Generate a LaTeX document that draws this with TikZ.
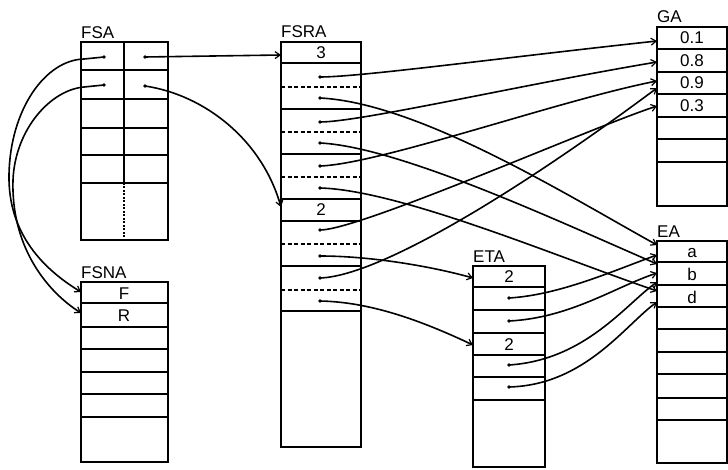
\documentclass[tikz,border=0pt]{standalone}
\usepackage{fontspec}
\setmainfont{Liberation Sans}
\usetikzlibrary{arrows.meta}
\begin{document}
\begin{tikzpicture}[x=1pt,y=-1pt,
  box/.style={line width=2pt},
  sep/.style={line width=1.8pt},
  dsep/.style={line width=1.8pt, dash pattern=on 4pt off 2.5pt},
  dmid/.style={line width=1.8pt, dash pattern=on 2pt off 1.5pt},
  link/.style={line width=1.6pt, -{Straight Barb[length=5pt,width=7pt,line width=1.2pt]}},
  lbl/.style={font=\fontsize{17}{17}\selectfont, inner sep=0pt, anchor=base},
  ttl/.style={font=\fontsize{17}{17}\selectfont, inner sep=0pt, anchor=base west},
  ptr/.style={circle, fill, inner sep=0pt, minimum size=3.8pt}]
\useasboundingbox (0,0) rectangle (728,470);

% ---------- titles ----------
\node[ttl] (tFSA)  at (81,39)  {FSA};
\node[ttl] (tFSRA) at (281,38) {FSRA};
\node[ttl] (tGA)   at (657,23) {GA};
\node[ttl] (tEA)   at (657,238) {EA};
\node[ttl] (tETA)  at (473,263) {ETA};
\node[ttl] (tFSNA) at (81,279) {FSNA};

% ---------- FSA ----------
\draw[box] (81,42) rectangle (168,240);
\foreach \y in {70,99,128,155,183} \draw[sep] (81,\y) -- (168,\y);
\draw[sep] (124,42) -- (124,183);
\draw[dmid] (124,183) -- (124,240);

% ---------- FSNA ----------
\draw[box] (81,282) rectangle (168,462);
\foreach \y in {303,327,349,372,394,417} \draw[sep] (81,\y) -- (168,\y);
\node[lbl] (cF) at (124,299) {F};
\node[lbl] (cR) at (124,321) {R};

% ---------- FSRA ----------
\draw[box] (281,42) rectangle (361,447);
\foreach \y in {63,109,154,199,221,266,311} \draw[sep] (281,\y) -- (361,\y);
\foreach \y in {87,132,177,244,290} \draw[dsep] (281,\y) -- (361,\y);
\node[lbl] (c3) at (321,59) {3};
\node[lbl] (c2) at (321,216) {2};

% ---------- ETA ----------
\draw[box] (473,266) rectangle (545,467);
\foreach \y in {287,310,333,355,377,400} \draw[sep] (473,\y) -- (545,\y);
\node[lbl] (e2a) at (509,283) {2};
\node[lbl] (e2b) at (509,350) {2};

% ---------- GA ----------
\draw[box] (657,27) rectangle (727,206);
\foreach \y in {49,72,94,117,139,162} \draw[sep] (657,\y) -- (727,\y);
\node[lbl] (g01) at (692,44)  {0.1};
\node[lbl] (g08) at (692,67)  {0.8};
\node[lbl] (g09) at (692,89)  {0.9};
\node[lbl] (g03) at (692,112) {0.3};

% ---------- EA ----------
\draw[box] (657,241) rectangle (727,463);
\foreach \y in {262,285,307,329,352,374,398,420} \draw[sep] (657,\y) -- (727,\y);
\node[lbl] (ea) at (692,258) {a};
\node[lbl] (eb) at (692,280) {b};
\node[lbl] (ed) at (692,303) {d};

% ---------- target coordinates ----------
\coordinate (F)   at (81,292);
\coordinate (R)   at (81,313);
\coordinate (S3)  at (281,55);
\coordinate (S2)  at (281,207);
\coordinate (G1)  at (657,41);
\coordinate (G2)  at (657,62);
\coordinate (G3a) at (657,81);
\coordinate (G3b) at (657,88);
\coordinate (G4)  at (657,106);
\coordinate (A1)  at (657,245);
\coordinate (A2)  at (657,255);
\coordinate (A3)  at (657,264);
\coordinate (A4)  at (657,273);
\coordinate (A5)  at (657,282);
\coordinate (A6)  at (657,291);
\coordinate (A7)  at (657,302);
\coordinate (T1)  at (473,278);
\coordinate (T2)  at (473,345);

% ---------- pointer dots ----------
\node[ptr] (fl1) at (104,57) {};
\node[ptr] (fl2) at (104,85) {};
\node[ptr] (fr1) at (145,57) {};
\node[ptr] (fr2) at (145,86) {};
\node[ptr] (p1)  at (320,77)  {};
\node[ptr] (p2)  at (320,98)  {};
\node[ptr] (p3)  at (320,122) {};
\node[ptr] (p4)  at (320,143) {};
\node[ptr] (p5)  at (320,166) {};
\node[ptr] (p6)  at (320,188) {};
\node[ptr] (p7)  at (320,230) {};
\node[ptr] (p8)  at (320,256) {};
\node[ptr] (p9)  at (320,278) {};
\node[ptr] (p10) at (320,301) {};
\node[ptr] (q1)  at (509,298) {};
\node[ptr] (q2)  at (509,321) {};
\node[ptr] (q3)  at (509,365) {};
\node[ptr] (q4)  at (509,387) {};

% ---------- FSA connectors ----------
\draw[link] (fl1.center) -- (84,59) .. controls (45,60) and (10,110) .. (9,175)
  .. controls (8,235) and (45,270) .. (F);
\draw[link] (fl2.center) -- (84,87) .. controls (50,90) and (15,130) .. (13,180)
  .. controls (11,245) and (45,290) .. (R);
\draw[link] (fr1.center) -- (S3);
\draw[link] (fr2.center) .. controls (205,95) and (262,140) .. (S2);

% ---------- FSRA connectors ----------
\draw[link] (p1.center)  .. controls (360,77)  and (500,58)  .. (G1);
\draw[link] (p2.center)  .. controls (420,103) and (570,197) .. (A1);
\draw[link] (p3.center)  .. controls (360,122) and (520,85)  .. (G2);
\draw[link] (p4.center)  .. controls (400,147) and (560,222) .. (A3);
\draw[link] (p5.center)  .. controls (380,164) and (560,100) .. (G3a);
\draw[link] (p6.center)  .. controls (400,190) and (560,258) .. (A6);
\draw[link] (p7.center)  .. controls (360,230) and (590,128) .. (G4);
\draw[link] (p8.center)  .. controls (370,256) and (430,266) .. (T1);
\draw[link] (p9.center)  .. controls (380,276) and (520,190) .. (G3b);
\draw[link] (p10.center) .. controls (370,302) and (420,320) .. (T2);

% ---------- ETA connectors ----------
\draw[link] (q1.center) .. controls (560,295) and (615,270) .. (A2);
\draw[link] (q2.center) .. controls (570,318) and (615,287) .. (A4);
\draw[link] (q3.center) .. controls (585,360) and (625,305) .. (A5);
\draw[link] (q4.center) .. controls (585,385) and (625,325) .. (A7);
\end{tikzpicture}
\end{document}
